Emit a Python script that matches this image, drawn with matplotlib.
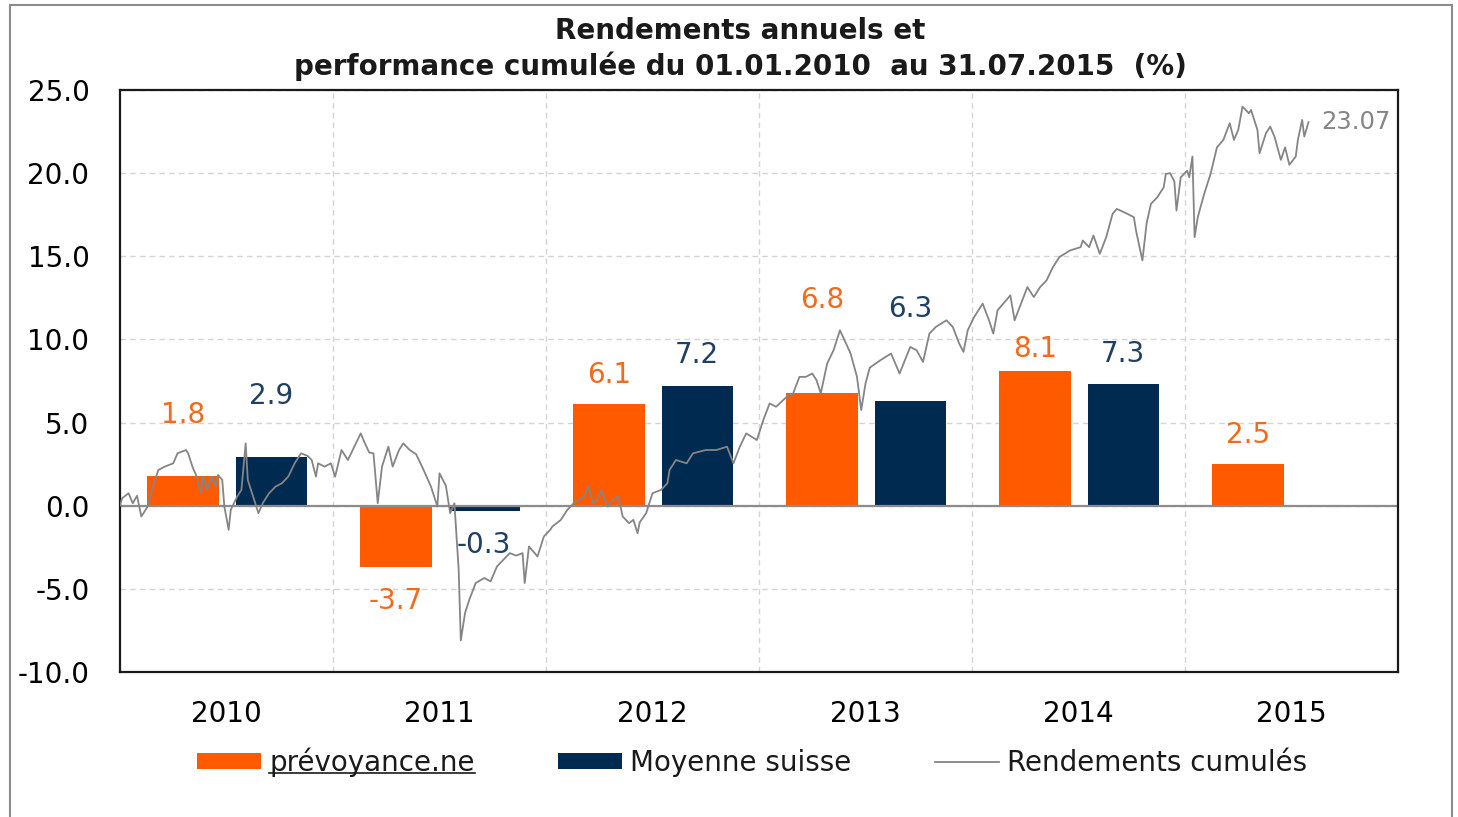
import matplotlib
matplotlib.use("Agg")
import matplotlib.pyplot as plt
from matplotlib.patches import Rectangle, Patch
from matplotlib.lines import Line2D
import numpy as np

plt.rcParams['font.family'] = ['DejaVu Sans']

# ---------------- data ----------------
years = ["2010", "2011", "2012", "2013", "2014", "2015"]
prevoyance = [1.8, -3.7, 6.1, 6.8, 8.1, 2.5]
moyenne = [2.9, -0.3, 7.2, 6.3, 7.3]          # no value for 2015
series_names = ["prévoyance.ne", "Moyenne suisse", "Rendements cumulés"]

# cumulative return series (time in fractional years, value in %)
cum_t = [2010.00, 2010.01, 2010.04, 2010.06, 2010.08, 2010.10, 2010.13, 2010.15, 2010.18, 2010.21,
         2010.25, 2010.27, 2010.31, 2010.32, 2010.34, 2010.36, 2010.38, 2010.39, 2010.41, 2010.43,
         2010.45, 2010.46, 2010.48, 2010.49, 2010.51, 2010.52, 2010.55, 2010.57, 2010.59, 2010.60,
         2010.62, 2010.65, 2010.67, 2010.70, 2010.73, 2010.76, 2010.79, 2010.82, 2010.85, 2010.88,
         2010.90, 2010.92, 2010.93, 2010.96, 2010.99, 2011.01, 2011.04, 2011.07, 2011.10, 2011.13,
         2011.15, 2011.17, 2011.19, 2011.21, 2011.23, 2011.26, 2011.28, 2011.31, 2011.33, 2011.36,
         2011.39, 2011.42, 2011.46, 2011.49, 2011.50, 2011.53, 2011.55, 2011.57, 2011.59, 2011.60,
         2011.62, 2011.64, 2011.67, 2011.71, 2011.74, 2011.77, 2011.80, 2011.83, 2011.86, 2011.89,
         2011.90, 2011.92, 2011.96, 2011.99, 2012.02, 2012.03, 2012.07, 2012.10, 2012.13, 2012.18,
         2012.20, 2012.22, 2012.24, 2012.26, 2012.29, 2012.32, 2012.34, 2012.36, 2012.39, 2012.41,
         2012.43, 2012.44, 2012.47, 2012.50, 2012.54, 2012.57, 2012.58, 2012.61, 2012.66, 2012.69,
         2012.75, 2012.80, 2012.85, 2012.88, 2012.91, 2012.94, 2012.99, 2013.02, 2013.05, 2013.08,
         2013.13, 2013.16, 2013.19, 2013.22, 2013.25, 2013.27, 2013.29, 2013.32, 2013.35, 2013.38,
         2013.40, 2013.43, 2013.46, 2013.48, 2013.50, 2013.52, 2013.57, 2013.62, 2013.66, 2013.71,
         2013.74, 2013.77, 2013.80, 2013.83, 2013.88, 2013.91, 2013.94, 2013.96, 2013.98, 2014.01,
         2014.05, 2014.08, 2014.10, 2014.12, 2014.16, 2014.18, 2014.20, 2014.23, 2014.26, 2014.29,
         2014.32, 2014.35, 2014.38, 2014.41, 2014.46, 2014.51, 2014.52, 2014.55, 2014.57, 2014.60,
         2014.63, 2014.66, 2014.68, 2014.73, 2014.76, 2014.77, 2014.80, 2014.82, 2014.84, 2014.87,
         2014.90, 2014.91, 2014.93, 2014.95, 2014.96, 2014.98, 2015.01, 2015.02, 2015.035, 2015.045,
         2015.06, 2015.09, 2015.12, 2015.15, 2015.18, 2015.21, 2015.23, 2015.25, 2015.27, 2015.30,
         2015.31, 2015.34, 2015.35, 2015.38, 2015.40, 2015.42, 2015.45, 2015.47, 2015.49, 2015.52,
         2015.53, 2015.55, 2015.56, 2015.58]
cum_v = [0.0, 0.45, 0.75, 0.15, 0.6, -0.65, -0.05, 0.95, 2.15, 2.35,
         2.55, 3.15, 3.35, 3.15, 2.35, 1.75, 0.75, 1.75, 0.95, 1.75,
         1.15, 1.85, 1.55, -0.05, -1.45, -0.25, 0.55, 0.95, 3.75, 1.55,
         0.75, -0.45, 0.15, 0.75, 1.15, 1.35, 1.75, 2.55, 3.15, 3.0,
         2.75, 1.75, 2.55, 2.35, 2.55, 1.75, 3.35, 2.75, 3.55, 4.35,
         3.75, 3.2, 3.15, 0.15, 2.35, 3.55, 2.35, 3.35, 3.75, 3.35,
         3.1, 2.3, 1.15, -0.05, 1.95, 1.2, -0.45, 0.15, -3.85, -8.1,
         -6.45, -5.65, -4.65, -4.35, -4.55, -3.65, -3.25, -2.85, -3.0, -2.85,
         -4.65, -2.45, -3.05, -1.85, -1.45, -1.25, -0.85, -0.25, 0.15, 0.55,
         1.2, 0.15, 0.35, 0.95, -0.05, 0.45, 0.55, -0.65, -1.05, -0.85,
         -1.65, -1.0, -0.45, 0.75, 0.95, 1.35, 2.15, 2.75, 2.55, 3.15,
         3.35, 3.35, 3.55, 2.55, 3.55, 4.35, 3.95, 5.15, 6.15, 5.95,
         6.55, 6.75, 7.75, 7.75, 7.95, 7.55, 6.75, 8.55, 9.35, 10.55,
         10.0, 9.15, 7.75, 5.75, 7.35, 8.3, 8.75, 9.15, 7.95, 9.55,
         9.35, 8.65, 10.35, 10.75, 11.15, 10.75, 9.75, 9.25, 10.55, 11.35,
         12.15, 11.15, 10.35, 11.75, 12.35, 12.65, 11.15, 12.15, 13.15, 12.55,
         13.15, 13.55, 14.35, 14.95, 15.35, 15.55, 15.95, 15.55, 16.25, 15.15,
         16.15, 17.55, 17.85, 17.55, 17.35, 16.55, 14.75, 17.0, 18.15, 18.55,
         19.15, 19.95, 20.0, 19.5, 17.75, 19.75, 20.15, 19.75, 21.0, 16.15,
         17.35, 18.75, 19.95, 21.55, 22.0, 23.0, 22.0, 22.6, 24.0, 23.6,
         23.8, 22.6, 21.2, 22.4, 22.8, 22.2, 20.8, 21.55, 20.5, 21.0,
         22.0, 23.2, 22.2, 23.07]
last_label = "23.07"

yticks = [25, 20, 15, 10, 5, 0, -5, -10]
title_lines = ["Rendements annuels et",
               "performance cumulée du 01.01.2010  au 31.07.2015  (%)"]

# ---------------- styles ----------------
c_orange = "#FF5A00"
c_navy = "#002A4F"
c_orange_txt = "#F26A1B"
c_navy_txt = "#1F3F63"
c_line = "#858585"
bar_w = 0.335
off_o, off_n = -0.205, 0.21
# label offsets (points) from bar end, placed by hand as in the original
lab_off_o = [44, -24, 21, 67, 16, 21]
lab_off_n = [44, -24.5, 22, 66, 22]
FS = 20

fig = plt.figure(figsize=(14.58, 8.17), dpi=100)
ax = fig.add_axes([120 / 1458, 1 - 672 / 817, 1278 / 1458, 582 / 817])

x = np.arange(len(years))
xm = np.arange(len(moyenne))
ax.bar(x + off_o, prevoyance, width=bar_w, color=c_orange, zorder=2)
ax.bar(xm + off_n, moyenne, width=bar_w, color=c_navy, zorder=2)

t = np.array(cum_t) - 2010 - 0.5
ax.plot(t, cum_v, color=c_line, lw=1.3, zorder=3)
ax.annotate(last_label, xy=(t[-1], cum_v[-1]), xytext=(9, 0), textcoords="offset points",
            ha="left", va="center", fontsize=FS - 2.5, color=c_line)

for i, v in enumerate(prevoyance):
    ax.annotate(f"{v:.1f}", xy=(x[i] + off_o, v), xytext=(0, lab_off_o[i]),
                textcoords="offset points", ha="center", va="center",
                fontsize=FS, color=c_orange_txt, zorder=4)
for i, v in enumerate(moyenne):
    ax.annotate(f"{v:.1f}", xy=(xm[i] + off_n, v), xytext=(0, lab_off_n[i]),
                textcoords="offset points", ha="center", va="center",
                fontsize=FS, color=c_navy_txt, zorder=4)

ax.set_xlim(-0.5, len(years) - 0.5)
ax.set_ylim(-10, 25)
ax.set_yticks(yticks)
ax.set_yticklabels([f"{v:.1f}" for v in yticks])
ax.set_xticks(x)
ax.set_xticklabels(years)
ax.set_xticks(np.arange(0.5, len(years) - 0.5, 1), minor=True)
ax.tick_params(axis="both", which="both", length=0, labelsize=FS)
ax.tick_params(axis="x", pad=20)
ax.tick_params(axis="y", pad=22)
ax.grid(axis="y", which="major", color="#D4D4D4", ls=(0, (4, 3)), lw=1.0, zorder=0)
ax.grid(axis="x", which="minor", color="#D4D4D4", ls=(0, (4, 3)), lw=1.0, zorder=0)
ax.axhline(0, color="#8C8C8C", lw=1.6, zorder=2.5)
for s in ax.spines.values():
    s.set_color("#1A1A1A")
    s.set_linewidth(1.6)

fig.text(740 / 1458, 1 - 31 / 817, title_lines[0], ha="center", va="center",
         fontsize=FS, fontweight="bold", color="#1A1A1A")
fig.text(740 / 1458, 1 - 66 / 817, title_lines[1], ha="center", va="center",
         fontsize=FS, fontweight="bold", color="#1A1A1A")

handles = [Patch(facecolor=c_orange, edgecolor="none"),
           Patch(facecolor=c_navy, edgecolor="none"),
           Line2D([0], [0], color=c_line, lw=1.3)]
leg = fig.legend(handles, series_names, loc="center", bbox_to_anchor=(752 / 1458, 1 - 762 / 817),
                 ncol=3, frameon=False, fontsize=FS, handlelength=2.3, handleheight=0.5,
                 handletextpad=0.3, columnspacing=3.0)
for tx in leg.get_texts():
    tx.set_color("#1A1A1A")

# outer border of the original image
fig.patches.append(Rectangle((10 / 1458, -0.02), 1442 / 1458, 1.02 - 5 / 817,
                             transform=fig.transFigure, fill=False, edgecolor="#8C8C8C", lw=1.5))

# underline the first legend entry (link style)
fig.canvas.draw()
bb = leg.get_texts()[0].get_window_extent()
inv = fig.transFigure.inverted()
(x0, y0), (x1, _) = inv.transform([(bb.x0, bb.y0 + 4), (bb.x1, bb.y0 + 4)])
fig.add_artist(Line2D([x0, x1], [y0, y0], transform=fig.transFigure, color="#1A1A1A", lw=1.2))

fig.savefig("out.png", dpi=100)
